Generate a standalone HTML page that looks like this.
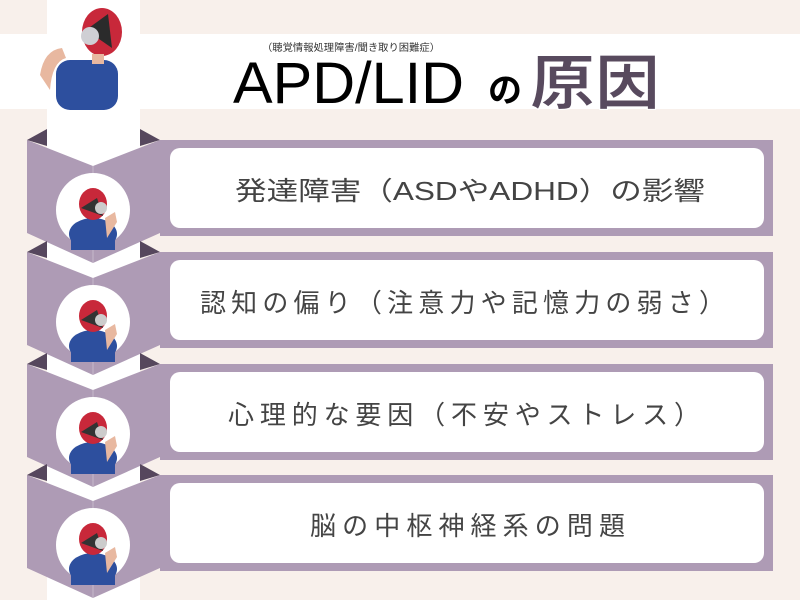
<!DOCTYPE html>
<html><head><meta charset="utf-8"><style>
html,body{margin:0;padding:0;width:800px;height:600px;overflow:hidden;background:#f8f0eb}
svg{display:block}
text{font-family:"Liberation Sans","Noto Sans CJK JP",sans-serif}
</style></head><body>
<svg width="800" height="600" viewBox="0 0 800 600" xmlns="http://www.w3.org/2000/svg">
<defs>
<g id="person">
  <ellipse cx="0" cy="22" rx="24" ry="16" fill="#2d4f9e"/>
  <rect x="-22" y="20" width="44" height="18" fill="#2d4f9e"/>
  <ellipse cx="0" cy="-8" rx="14" ry="16" fill="#c8283a"/>
  <path d="M-12,-4 L4,-14 L10,4 Z" fill="#333"/>
  <circle cx="8" cy="-4" r="6" fill="#ccc"/>
  <path d="M12,6 L22,0 L24,10 L14,26 Z" fill="#e8b8a0"/>
</g>
<g id="sec">
  <rect x="160" y="140" width="613" height="96" fill="#ae9bb5"/>
  <rect x="170" y="148" width="594" height="80" rx="10" fill="#fff"/>
  <path d="M27,140 L93,166 L160,140 L160,233 L93,263 L27,233 Z" fill="#ae9bb5"/>
  <path d="M27,140 L47,129 L47,146 Z M160,140 L140,129 L140,146 Z" fill="#56475d"/>
  <line x1="93" y1="166" x2="93" y2="263" stroke="#c6b8cb" stroke-width="1"/>
  <circle cx="93" cy="210" r="37" fill="#fff"/>
  <use href="#person" x="93" y="212"/>
</g>
</defs>
<rect x="0" y="34" width="800" height="75" fill="#fff"/>
<rect x="47" y="0" width="93" height="600" fill="#fff"/>
<g>
  <rect x="56" y="60" width="62" height="50" rx="14" fill="#2d4f9e"/>
  <path d="M40,75 Q44,50 62,48 L66,58 Q52,62 50,90 Z" fill="#e8b8a0"/>
  <ellipse cx="102" cy="32" rx="20" ry="24" fill="#c8283a"/>
  <path d="M86,30 L108,14 L112,48 Z" fill="#2b2b2b"/>
  <circle cx="90" cy="36" r="9" fill="#cfcfd4"/>
  <rect x="92" y="54" width="12" height="10" fill="#e8b8a0"/>
</g>
<text x="262" y="51" font-size="10" fill="#333" textLength="178" lengthAdjust="spacingAndGlyphs">（聴覚情報処理障害/聞き取り困難症）</text>
<text x="233" y="103" font-size="58" fill="#000" textLength="231" lengthAdjust="spacingAndGlyphs">APD/LID</text>
<text x="488" y="102" font-size="34" font-weight="bold" fill="#000">の</text>
<text x="530" y="104" font-size="60" font-weight="bold" fill="#584a5e" stroke="#fff" stroke-width="1" textLength="130" lengthAdjust="spacingAndGlyphs">原因</text>

<use href="#sec" y="0"/>
<use href="#sec" y="112"/>
<use href="#sec" y="224"/>
<use href="#sec" y="335"/>
<text x="235" y="200" font-size="26" fill="#444" textLength="470" lengthAdjust="spacingAndGlyphs">発達障害（ASDやADHD）の影響</text>
<text x="200" y="312" font-size="26" fill="#444" textLength="525" lengthAdjust="spacing">認知の偏り（注意力や記憶力の弱さ）</text>
<text x="228" y="424" font-size="26" fill="#444" textLength="472" lengthAdjust="spacing">心理的な要因（不安やストレス）</text>
<text x="310" y="535" font-size="26" fill="#444" textLength="315" lengthAdjust="spacing">脳の中枢神経系の問題</text>
</svg>
</body></html>
